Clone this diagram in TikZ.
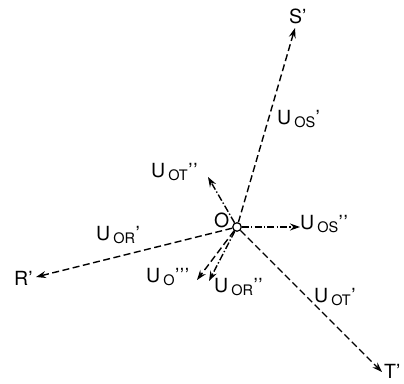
\documentclass[tikz,border=0pt]{standalone}
\usepackage{fontspec}
\setmainfont{TeX Gyre Heros}
\usetikzlibrary{arrows.meta}
\newcommand{\basef}{\fontsize{19.5}{22}\selectfont}
\newcommand{\subf}{\fontsize{14.5}{16}\selectfont}
\newcommand{\Ulab}[2]{U\kern3pt\raisebox{-3pt}{\subf #1}\kern0.5pt#2}
\newcommand{\pr}{'}
\newcommand{\prr}{'\kern0.6pt'}
\newcommand{\prrr}{'\kern0.6pt'\kern0.6pt'}
\begin{document}
\begin{tikzpicture}[x=1pt,y=-1pt,
  vec/.style={line width=1.4pt,-{Stealth[length=10pt,width=7pt,inset=3.5pt]}},
  dsh/.style={vec,dash pattern=on 7pt off 3.5pt},
  dshdot/.style={vec,dash pattern=on 7pt off 2.2pt on 1.4pt off 2.2pt},
  lab/.style={anchor=base west,inner sep=0pt,font=\basef}]
\useasboundingbox (0,0) rectangle (404,383);
\node[circle,draw,fill=white,line width=1.2pt,minimum size=8.5pt,inner sep=0pt] (O) at (237,227) {};
\coordinate (Sp) at (295,28);
\coordinate (Rp) at (36,277);
\coordinate (Tp) at (382,372);
\coordinate (Ot2) at (208,177);
\coordinate (Os2) at (300,227);
\coordinate (O3) at (197,280);
\coordinate (Or2) at (209,281);
\draw[dsh] (O) -- (Sp);
\draw[dsh] (O) -- (Rp);
\draw[dsh] (O) -- (Tp);
\draw[dsh] (O) -- (O3);
\draw[dshdot] (O) -- (Ot2);
\draw[dshdot] (O) -- (Os2);
\draw[dshdot] (O) -- (Or2);
\node[lab] (lO) at (214,227) {O};
\node[lab] (lS) at (289,23) {S\pr};
\node[lab] (lR) at (14,285) {R\pr};
\node[lab] (lT) at (384,378) {T\pr};
\node[lab] (lUos1) at (277,124) {\Ulab{OS}{\pr}};
\node[lab] (lUot2) at (151,177) {\Ulab{OT}{\prr}};
\node[lab] (lUos2) at (300,229) {\Ulab{OS}{\prr}};
\node[lab] (lUor1) at (96,240) {\Ulab{OR}{\pr}};
\node[lab] (lUo3) at (146,282) {\Ulab{O}{\prrr}};
\node[lab] (lUor2) at (214,292) {\Ulab{OR}{\prr}};
\node[lab] (lUot1) at (314,302) {\Ulab{OT}{\pr}};
\end{tikzpicture}
\end{document}
